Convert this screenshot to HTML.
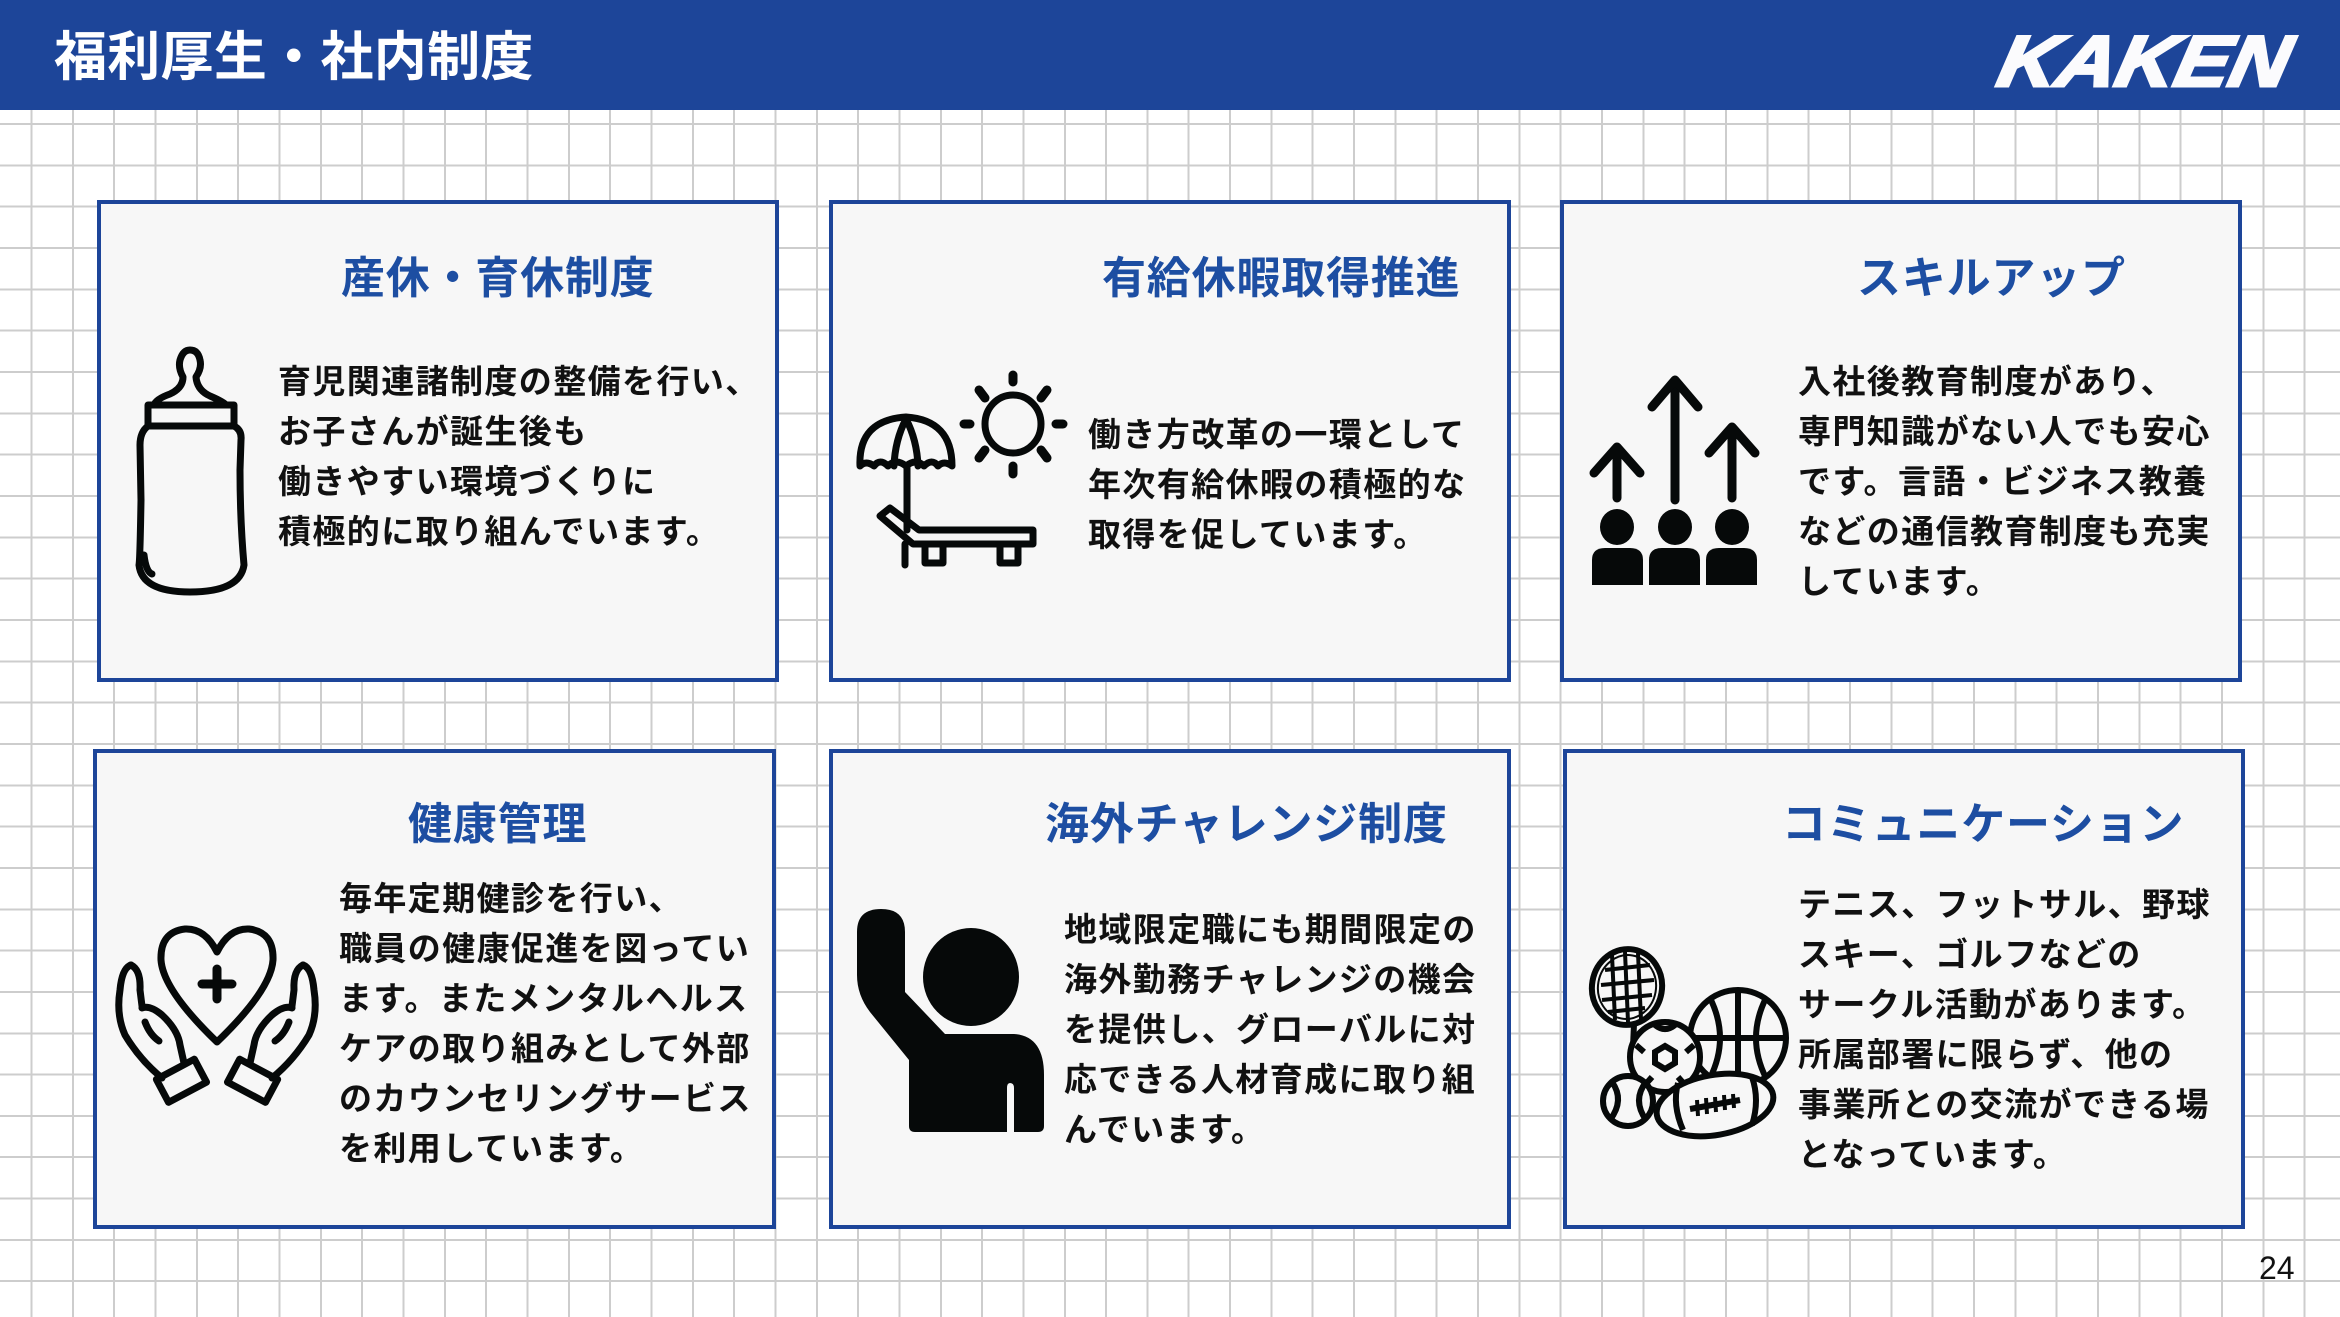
<!DOCTYPE html>
<html><head><meta charset="utf-8">
<style>
html,body{margin:0;padding:0}
body{width:2340px;height:1317px;position:relative;overflow:hidden;background:#fff;
background-image:repeating-linear-gradient(90deg,transparent 0 30.5px,#cdcdcd 30.5px 32.5px,transparent 32.5px 41.33px),repeating-linear-gradient(180deg,#cdcdcd 0 1px,transparent 1px 40.33px,#cdcdcd 40.33px 41.33px);
font-family:"Liberation Sans","Noto Sans CJK JP",sans-serif}
.hdr{position:absolute;left:0;top:0;width:2340px;height:110px;background:#1d4599}
.htitle{position:absolute;left:54px;top:28px;font-size:53px;line-height:60px;color:#fff;font-weight:bold;letter-spacing:0.3px}
.card{position:absolute;background:#f7f7f7;border:4px solid #1d4599;box-sizing:border-box}
.t{position:absolute;font-size:44px;line-height:44px;font-weight:bold;color:#1d4ea2;white-space:nowrap;letter-spacing:0.8px}
.b{position:absolute;font-size:33px;line-height:50px;font-weight:bold;color:#111;white-space:nowrap;letter-spacing:1.4px}
.pg{position:absolute;left:2259px;top:1252px;font-size:32px;line-height:32px;color:#111}
svg.ov{position:absolute;left:0;top:0}
</style></head><body>
<div class="hdr"></div>
<div class="htitle">福利厚生・社内制度</div>

<div class="card" style="left:97px;top:200px;width:682px;height:482px"></div>
<div class="card" style="left:829px;top:200px;width:682px;height:482px"></div>
<div class="card" style="left:1560px;top:200px;width:682px;height:482px"></div>
<div class="card" style="left:93px;top:749px;width:683px;height:480px"></div>
<div class="card" style="left:829px;top:749px;width:682px;height:480px"></div>
<div class="card" style="left:1563px;top:749px;width:682px;height:480px"></div>

<div class="t" style="left:341px;top:257px">産休・育休制度</div>
<div class="t" style="left:1102px;top:257px">有給休暇取得推進</div>
<div class="t" style="left:1857px;top:257px">スキルアップ</div>
<div class="t" style="left:408px;top:803px">健康管理</div>
<div class="t" style="left:1045px;top:803px">海外チャレンジ制度</div>
<div class="t" style="left:1782px;top:803px">コミュニケーション</div>

<div class="b" style="left:278px;top:357px">育児関連諸制度の整備を行い、<br>お子さんが誕生後も<br>働きやすい環境づくりに<br>積極的に取り組んでいます。</div>
<div class="b" style="left:1088px;top:410px">働き方改革の一環として<br>年次有給休暇の積極的な<br>取得を促しています。</div>
<div class="b" style="left:1798px;top:357px">入社後教育制度があり、<br>専門知識がない人でも安心<br>です。言語・ビジネス教養<br>などの通信教育制度も充実<br>しています。</div>
<div class="b" style="left:339px;top:874px">毎年定期健診を行い、<br>職員の健康促進を図ってい<br>ます。またメンタルヘルス<br>ケアの取り組みとして外部<br>のカウンセリングサービス<br>を利用しています。</div>
<div class="b" style="left:1064px;top:905px">地域限定職にも期間限定の<br>海外勤務チャレンジの機会<br>を提供し、グローバルに対<br>応できる人材育成に取り組<br>んでいます。</div>
<div class="b" style="left:1798px;top:880px">テニス、フットサル、野球<br>スキー、ゴルフなどの<br>サークル活動があります。<br>所属部署に限らず、他の<br>事業所との交流ができる場<br>となっています。</div>

<div class="pg">24</div>

<svg class="ov" width="2340" height="1317" viewBox="0 0 2340 1317">
<!-- KAKEN logo -->
<text x="1995" y="86" font-family="Liberation Sans" font-weight="bold" font-style="italic" font-size="72" fill="#fbfbfd" stroke="#fbfbfd" stroke-width="3" textLength="290" lengthAdjust="spacingAndGlyphs" transform="skewX(-12) translate(18,0)">KAKEN</text>

<g fill="none" stroke="#060909" stroke-width="7" stroke-linecap="round" stroke-linejoin="round">
<!-- baby bottle -->
<path d="M183 377 Q178 368 180 360 Q183 350 190 350 Q198 350 200 360 Q202 368 196 377 Q197 390 210 396 Q224 402 226 405 L154 405 Q156 399 170 394 Q183 388 183 377 Z"/>
<rect x="148" y="405" width="86" height="21"/>
<path d="M148 426 Q140 432 140 445 L141 500 Q140 560 139 565 Q142 592 190 592 Q240 592 244 565 Q240 520 240 470 L241 440 Q242 430 234 426"/>
<path d="M144 555 Q146 572 152 574"/>
<!-- sun -->
<ellipse cx="1013" cy="424" rx="28" ry="29"/>
<g stroke-width="9">
<line x1="1013" y1="375" x2="1013" y2="382"/><line x1="1013" y1="466" x2="1013" y2="474"/>
<line x1="964" y1="424" x2="970" y2="424"/><line x1="1056" y1="424" x2="1063" y2="424"/>
<line x1="979" y1="390" x2="985" y2="398"/><line x1="1047" y1="390" x2="1041" y2="398"/>
<line x1="979" y1="458" x2="985" y2="450"/><line x1="1047" y1="458" x2="1041" y2="450"/>
</g>
<!-- umbrella -->
<path d="M860 466 Q858 420 906 417 Q952 420 952 466 Q944 460 938 466 Q932 458 924 466 Q916 458 906 466 Q896 458 888 466 Q880 458 874 466 Q866 460 860 466 Z"/>
<path d="M906 419 Q895 440 894 466 M906 419 Q917 440 918 466"/>
<line x1="907" y1="466" x2="907" y2="530"/>
<path d="M880 516 L890 508 L919 530 L1033 530 L1033 544 L913 544 Z"/>
<path d="M905 544 L905 565 M925 544 L925 563 L943 563 L943 544 M1000 544 L1000 563 L1018 563 L1018 544"/>
</g>

<!-- skill up -->
<g stroke="#060909" stroke-width="9" fill="none" stroke-linecap="round" stroke-linejoin="round">
<line x1="1675" y1="385" x2="1675" y2="500"/><polyline points="1652,407 1675,380 1698,407"/>
<line x1="1617" y1="450" x2="1617" y2="498"/><polyline points="1594,473 1617,447 1640,473"/>
<line x1="1732" y1="430" x2="1732" y2="498"/><polyline points="1709,453 1732,427 1755,453"/>
</g>
<g fill="#060909">
<ellipse cx="1617" cy="527" rx="17" ry="18"/><ellipse cx="1675" cy="527" rx="17" ry="18"/><ellipse cx="1732" cy="527" rx="17" ry="18"/>
<path d="M1592 585 L1592 560 Q1592 548 1605 548 L1630 548 Q1643 548 1643 560 L1643 585 Z"/>
<path d="M1649 585 L1649 560 Q1649 548 1662 548 L1687 548 Q1700 548 1700 560 L1700 585 Z"/>
<path d="M1706 585 L1706 560 Q1706 548 1719 548 L1744 548 Q1757 548 1757 560 L1757 585 Z"/>
</g>

<!-- heart hands -->
<g fill="none" stroke="#060909" stroke-width="7" stroke-linecap="round" stroke-linejoin="round">
<path d="M217 952 Q205 928 185 929 Q160 932 161 960 Q163 990 217 1042 Q271 990 273 960 Q274 932 249 929 Q229 928 217 952 Z"/>
<g stroke-width="9"><line x1="217" y1="969" x2="217" y2="999"/><line x1="202" y1="984" x2="232" y2="984"/></g>
<g id="lh">
<path d="M131 965 Q122 968 120 990 Q116 1015 125 1035 Q140 1060 162 1078"/>
<path d="M131 965 Q141 970 140 990 L142 1006"/>
<path d="M142 1008 Q150 1005 162 1015 Q178 1030 180 1045 L184 1063"/>
<path d="M145 1022 Q150 1035 159 1041"/>
<rect x="160" y="1068" width="43" height="26" transform="rotate(-28 181 1081)"/>
</g>
<use href="#lh" transform="translate(434 0) scale(-1 1)"/>
</g>

<!-- person raising hand -->
<g fill="#060909">
<ellipse cx="971" cy="977" rx="48" ry="49"/>
<path d="M857 932 Q857 909 881 909 Q905 909 905 932 L905 992 L945 1034 L1014 1034 Q1044 1036 1044 1075 L1044 1126 Q1044 1132 1038 1132 L1014 1132 L1014 1088 Q1014 1083 1010 1083 Q1007 1083 1007 1088 L1007 1132 L915 1132 Q909 1132 909 1126 L909 1060 L870 1012 Q857 995 857 975 Z"/>
</g>

<!-- sports -->
<g stroke="#060909" stroke-width="6" fill="#f7f7f7">
<circle cx="1738" cy="1038" r="48"/>
<path d="M1738 990 L1738 1086 M1690 1038 L1786 1038 M1710 998 Q1730 1038 1710 1078 M1766 998 Q1746 1038 1766 1078" fill="none"/>
<line x1="1634" y1="1024" x2="1633" y2="1047"/>
<circle cx="1665" cy="1057" r="35"/>
<polygon points="1665,1046 1675,1052 1675,1063 1665,1069 1655,1063 1655,1052" fill="none"/>
<path d="M1655 1025 Q1665 1033 1675 1025 M1636 1045 L1644 1052 M1694 1045 L1686 1052 M1645 1085 L1652 1077 M1685 1085 L1678 1077" fill="none"/>
<ellipse cx="1627" cy="987" rx="35" ry="38" transform="rotate(10 1627 987)"/>
<ellipse cx="1627" cy="987" rx="29" ry="32" transform="rotate(10 1627 987)" fill="none" stroke-width="2"/>
<g stroke-width="4" fill="none">
<line x1="1605" y1="970" x2="1650" y2="965"/><line x1="1601" y1="985" x2="1654" y2="980"/><line x1="1602" y1="1000" x2="1652" y2="995"/><line x1="1608" y1="1012" x2="1645" y2="1008"/>
<line x1="1612" y1="955" x2="1615" y2="1020"/><line x1="1625" y1="952" x2="1628" y2="1022"/><line x1="1638" y1="953" x2="1641" y2="1020"/>
</g>
<circle cx="1628" cy="1101" r="25"/>
<path d="M1612 1082 Q1625 1100 1610 1120 M1646 1082 Q1632 1100 1646 1120" fill="none"/>
<ellipse cx="1715" cy="1105" rx="59" ry="30" transform="rotate(-10 1715 1105)"/>
<path d="M1678 1083 Q1672 1105 1683 1130 M1752 1077 Q1760 1100 1752 1125 M1690 1109 L1740 1100" fill="none"/>
<path d="M1697 1100 L1698 1116 M1706 1098 L1707 1114 M1715 1097 L1716 1112 M1724 1095 L1725 1110 M1733 1094 L1734 1108" fill="none" stroke-width="4"/>
</g>
</svg>
</body></html>
